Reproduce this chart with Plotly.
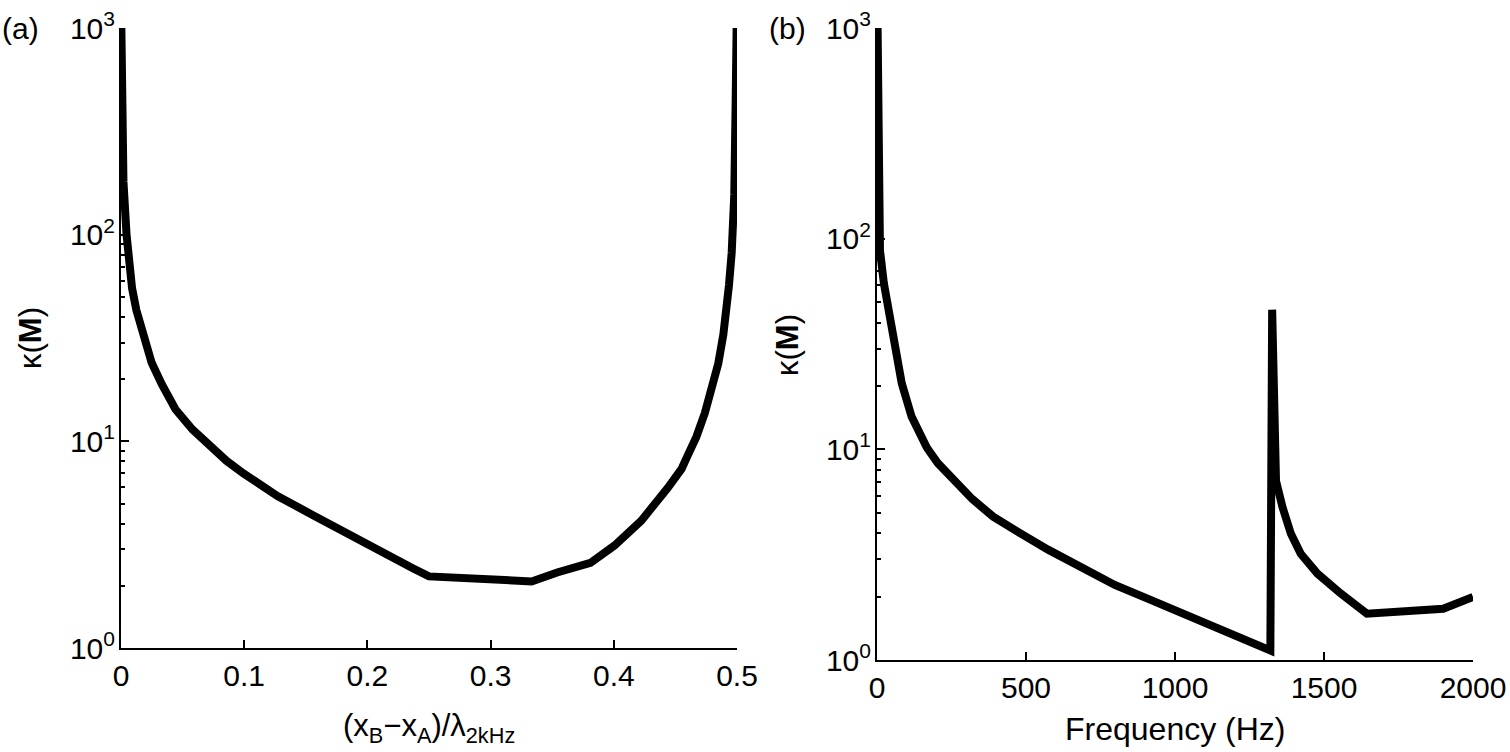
import plotly.graph_objects as go

# (a) condition number against microphone spacing (x_B - x_A) / lambda_2kHz
spacing = [0.0003, 0.001, 0.002, 0.0045, 0.0068, 0.009, 0.0124, 0.0193, 0.0221,
           0.0249, 0.0331, 0.0387, 0.0442, 0.058, 0.0635, 0.0718, 0.0856, 0.0994,
           0.127, 0.1547, 0.1823, 0.21, 0.2376, 0.25, 0.3, 0.3333, 0.354, 0.381,
           0.4005, 0.411, 0.4223, 0.444, 0.455, 0.4603, 0.467, 0.4739, 0.4807, 0.4848,
           0.4889, 0.4916, 0.4935, 0.4957, 0.497, 0.4978, 0.4989, 0.4997]
kappa_spacing = [1000, 400, 180, 100, 68, 55, 43.3, 31.3, 27.3,
                 24.0, 18.9, 16.5, 14.3, 11.4, 10.6, 9.46, 8.05, 7.0,
                 5.44, 4.43, 3.6, 2.99, 2.42, 2.22, 2.12, 2.10, 2.32, 2.58,
                 3.13, 3.6, 4.13, 5.97, 7.35, 8.63, 10.5, 13.7, 18.9, 23.8,
                 32.8, 43, 57, 82, 109, 157, 433, 1000]

# (b) condition number against frequency
freq = [2, 6, 10, 23, 43, 60, 83, 116, 167, 204, 267, 320, 390, 430, 480, 574,
        686, 798, 910, 1022, 1134, 1247, 1320, 1326, 1330, 1339, 1361, 1389,
        1422, 1478, 1556, 1644, 1900, 2000]
kappa_freq = [1000, 250, 88, 61.5, 42.6, 29.6, 20.6, 14.3, 10.2, 8.6, 6.92, 5.8,
              4.79, 4.4, 4.0, 3.34, 2.73, 2.27, 1.95, 1.67, 1.43, 1.22, 1.11,
              46, 15, 7.08, 5.3, 3.97, 3.19, 2.57, 2.07, 1.66, 1.75, 1.99]

decades = [1, 10, 100, 1000]
decade_labels = ["10<sup>0</sup>", "10<sup>1</sup>", "10<sup>2</sup>", "10<sup>3</sup>"]
minor_vals = [m * d for d in (1, 10, 100) for m in range(2, 10)]

W, H = 1510, 752
FONT = "Liberation Sans, Arial, Helvetica, sans-serif"

fig = go.Figure()
fig.add_trace(go.Scatter(x=spacing, y=kappa_spacing, mode="lines",
                         line=dict(color="black", width=8),
                         xaxis="x", yaxis="y", showlegend=False))
fig.add_trace(go.Scatter(x=freq, y=kappa_freq, mode="lines",
                         line=dict(color="black", width=8),
                         xaxis="x2", yaxis="y2", showlegend=False))

common = dict(showline=True, linecolor="black", linewidth=2, ticks="inside",
              tickcolor="black", tickwidth=2, ticklen=8, showgrid=False,
              zeroline=False, automargin=False, tickfont=dict(size=30, color="black"))
yaxis_style = dict(common, type="log", range=[0, 3], tickmode="array",
                   tickvals=decades, ticktext=decade_labels, ticklabelstandoff=-2,
                   minor=dict(tickmode="array", tickvals=minor_vals, ticks="inside",
                              ticklen=4, tickwidth=1.5, tickcolor="black"))

fig.update_layout(
    width=W, height=H,
    margin=dict(l=0, r=0, t=0, b=0),
    paper_bgcolor="white", plot_bgcolor="white",
    font=dict(family=FONT, size=30, color="black"),
    xaxis=dict(common, domain=[121 / W, 737 / W], range=[0, 0.5],
               tickmode="array", tickvals=[0, 0.1, 0.2, 0.3, 0.4, 0.5], anchor="y"),
    yaxis=dict(yaxis_style, domain=[1 - 648 / H, 1 - 28 / H], anchor="x"),
    xaxis2=dict(common, domain=[877 / W, 1473 / W], range=[0, 2000],
                dtick=500, anchor="y2"),
    yaxis2=dict(yaxis_style, domain=[1 - 660 / H, 1 - 28 / H], anchor="x2"),
)

notes = [
    dict(text="(a)", x=20 / W, y=1 - 28 / H, size=30),
    dict(text="(b)", x=787 / W, y=1 - 28 / H, size=30),
    dict(text="κ(<b>M</b>)", x=30 / W, y=1 - 338 / H, textangle=-90, size=31),
    dict(text="κ(<b>M</b>)", x=788 / W, y=1 - 345 / H, textangle=-90, size=31),
    dict(text="(x<sub>B</sub>−x<sub>A</sub>)/λ<sub>2kHz</sub>", x=429 / W, y=1 - 728 / H, size=31),
    dict(text="Frequency (Hz)", x=1175 / W, y=1 - 729 / H, size=32),
]
for n in notes:
    size = n.pop("size")
    fig.add_annotation(xref="paper", yref="paper", showarrow=False,
                       xanchor="center", yanchor="middle",
                       font=dict(family=FONT, size=size, color="black"), **n)

# drop the page's default body margin so the figure sits at the window corner
fig.write_html("out.html", config={"displayModeBar": False},
               post_script="document.body.style.margin='0';")
